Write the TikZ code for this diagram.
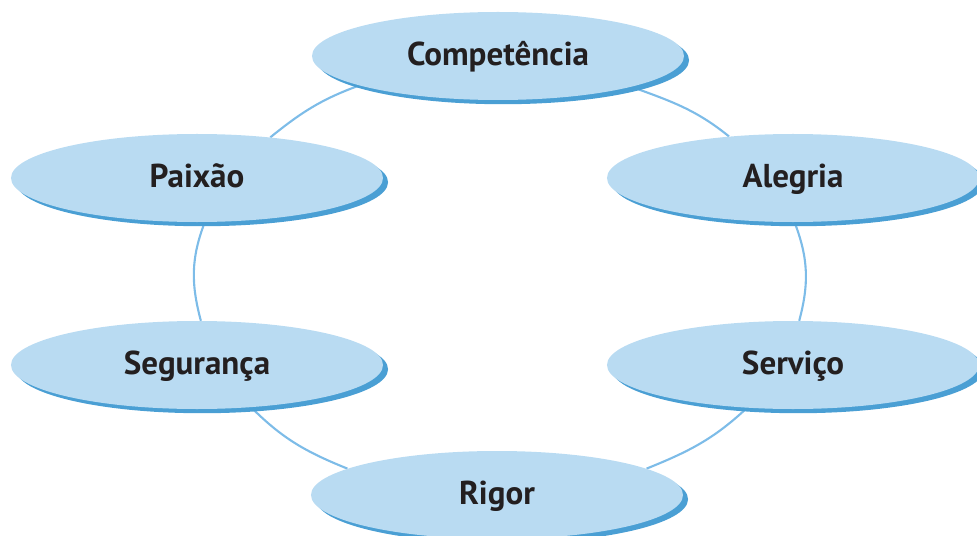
\documentclass[tikz,border=0pt]{standalone}
\usepackage{fontspec}
\setmainfont{PT Sans}
\usepackage{tikz}
\usetikzlibrary{shapes,shadows,backgrounds}

\definecolor{valorfill}{HTML}{B9DBF2}
\definecolor{valorshadow}{HTML}{4A9FD4}
\definecolor{anelblue}{HTML}{7DBCE8}
\definecolor{texto}{HTML}{231F20}

\tikzset{
  valor/.style={ellipse,minimum width=11.16cm,minimum height=2.64cm,inner sep=0pt,
    fill=valorfill,text=texto,font=\bfseries\fontsize{28.2}{32}\selectfont,
    text height=23pt,text depth=7pt,
    drop shadow={shadow xshift=4.3pt,shadow yshift=-3.6pt,fill=valorshadow,opacity=1}},
  anel/.style={draw=anelblue,line width=1.8pt}
}

\begin{document}
\begin{tikzpicture}[x=0.03cm,y=-0.03cm]
  \useasboundingbox (0,0) rectangle (977,536);
  % valores
  \node[valor] (comp)  at (498,56)  {Competência};
  \node[valor] (paix)  at (197,178) {Paixão};
  \node[valor] (aleg)  at (793,178) {Alegria};
  \node[valor] (seg)   at (197,365) {Segurança};
  \node[valor] (serv)  at (793,365) {Serviço};
  \node[valor] (rigor) at (497,495) {Rigor};
  % anel
  \begin{pgfonlayer}{background}
    \draw[anel] (comp.192) to[out=200,in=39] (paix.29);
    \draw[anel] (comp.347) to[out=-20,in=141] (aleg.147);
    \draw[anel] (paix.280) to[out=249,in=105] (seg.85);
    \draw[anel] (aleg.272) to[out=291,in=75] (serv.82);
    \draw[anel] (seg.322) to[out=315,in=158] (rigor.170);
    \draw[anel] (serv.223) to[out=223,in=22] (rigor.10);
  \end{pgfonlayer}
\end{tikzpicture}
\end{document}
